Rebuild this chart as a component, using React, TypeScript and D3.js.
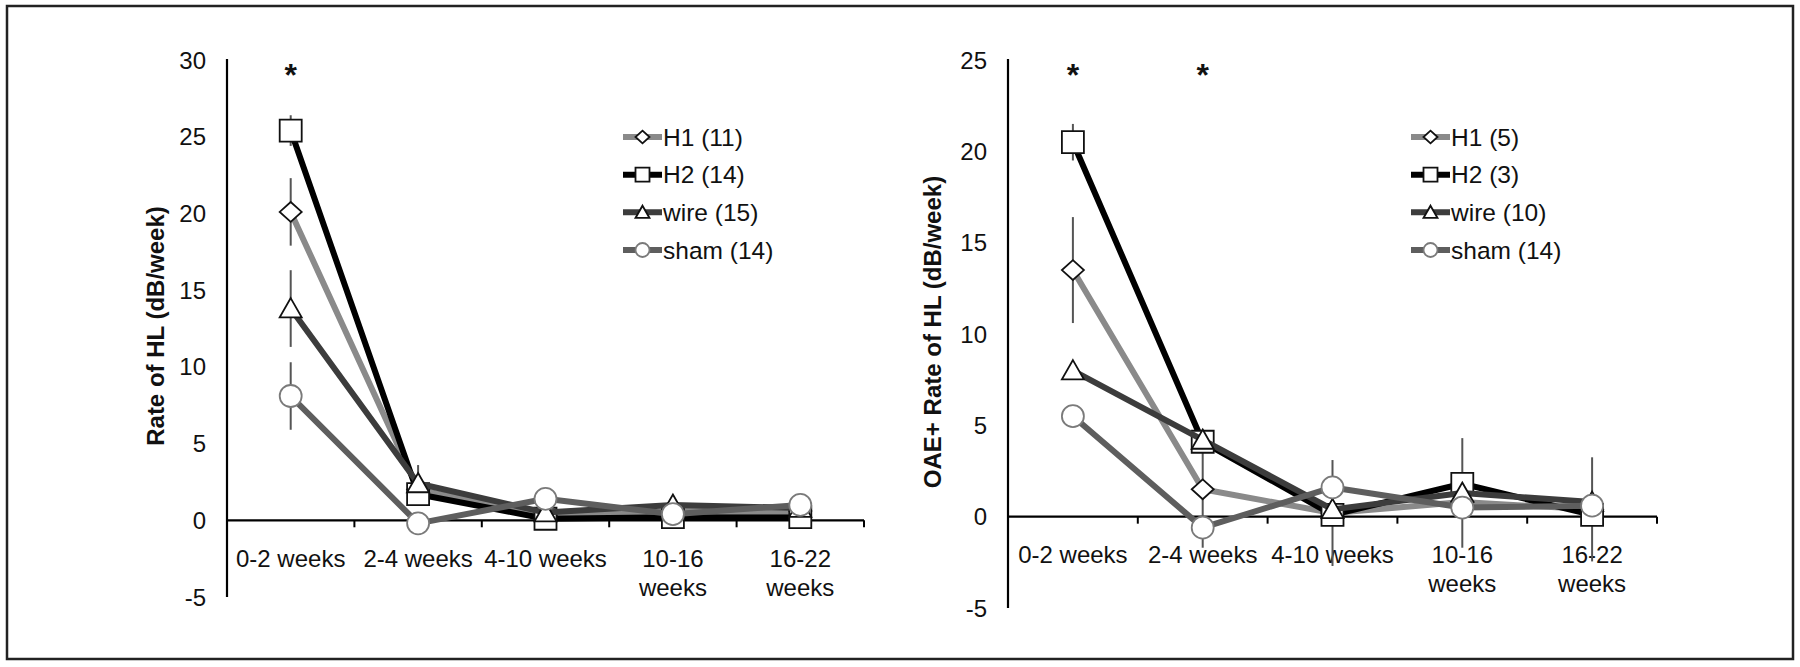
import React from "react";
import * as d3 from "d3";

const categories = ["0-2 weeks", "2-4 weeks", "4-10 weeks", "10-16 weeks", "16-22 weeks"];
const categoryLines = [["0-2 weeks"], ["2-4 weeks"], ["4-10 weeks"], ["10-16", "weeks"], ["16-22", "weeks"]];
const seriesKeys = ["H1", "H2", "wire", "sham"];

const leftTicks = [-5, 0, 5, 10, 15, 20, 25, 30];
const rightTicks = [-5, 0, 5, 10, 15, 20, 25];

const leftLegend = ["H1 (11)", "H2 (14)", "wire (15)", "sham (14)"];
const rightLegend = ["H1 (5)", "H2 (3)", "wire (10)", "sham (14)"];

const leftH1 = [20.1, 2.0, 0.3, 0.6, 0.6];
const leftH2 = [25.4, 1.7, 0.1, 0.2, 0.2];
const leftWire = [13.8, 2.4, 0.5, 1.0, 0.8];
const leftSham = [8.1, -0.2, 1.4, 0.4, 1.0];
const leftH1Err = [2.2, 0, 0, 0, 0];
const leftH2Err = [1.0, 0, 0, 0, 0.6];
const leftWireErr = [2.5, 1.2, 0, 0, 0];
const leftShamErr = [2.2, 0, 0, 0, 0];

const rightH1 = [13.5, 1.5, 0.2, 0.8, 0.4];
const rightH2 = [20.5, 4.1, 0.1, 1.8, 0.1];
const rightWire = [8.0, 4.2, 0.4, 1.3, 0.8];
const rightSham = [5.5, -0.6, 1.6, 0.5, 0.6];
const rightH1Err = [2.9, 3.2, 2.9, 0, 2.85];
const rightH2Err = [1.0, 0, 0, 0, 0];
const rightWireErr = [0, 0, 0, 3.0, 0];
const rightShamErr = [0, 0, 0, 0, 0];

const leftStars = ["0-2 weeks"];
const rightStars = ["0-2 weeks", "2-4 weeks"];

const FONT = "'Liberation Sans', Arial, Helvetica, sans-serif";

const styles: Record<string, { line: string; stroke: string; marker: string }> = {
  H1: { line: "#8a8a8a", stroke: "#111", marker: "diamond" },
  H2: { line: "#000000", stroke: "#111", marker: "square" },
  wire: { line: "#3c3c3c", stroke: "#111", marker: "triangle" },
  sham: { line: "#5e5e5e", stroke: "#7a7a7a", marker: "circle" },
};

function markerPath(kind: string, s: number): string {
  const h = s / 2;
  if (kind === "square") return `M${-h},${-h}H${h}V${h}H${-h}Z`;
  if (kind === "diamond") return `M0,${-h * 0.9}L${h},0L0,${h * 0.9}L${-h},0Z`;
  if (kind === "triangle") return `M0,${-h * 0.95}L${h},${h * 0.8}L${-h},${h * 0.8}Z`;
  return d3.arc()({ innerRadius: 0, outerRadius: h, startAngle: 0, endAngle: Math.PI * 2 }) as string;
}

type PanelProps = {
  x0: number;
  x1: number;
  yTop: number;
  yBottom: number;
  domain: [number, number];
  ticks: number[];
  values: number[][];
  errs: number[][];
  legend: string[];
  legendX: number;
  stars: string[];
  title: string;
  titleX: number;
  titleY: number;
};

function Panel(p: PanelProps) {
  const x = d3.scaleBand<string>().domain(categories).range([p.x0, p.x1]).padding(0);
  const y = d3.scaleLinear().domain(p.domain).range([p.yBottom, p.yTop]);
  const cx = (c: string) => (x(c) as number) + x.bandwidth() / 2;
  const y0 = y(0);
  const line = d3
    .line<number>()
    .x((_, i) => cx(categories[i]))
    .y((v) => y(v));
  const legendRows = d3.scalePoint<string>().domain(seriesKeys).range([137, 250]);

  return (
    <g>
      <line x1={p.x0} x2={p.x0} y1={p.yTop - 1} y2={p.yBottom} stroke="#000" strokeWidth={2.2} />
      <line x1={p.x0} x2={p.x1} y1={y0} y2={y0} stroke="#000" strokeWidth={2.2} />
      {categories.map((c) => (
        <line
          key={"t" + c}
          x1={(x(c) as number) + x.bandwidth()}
          x2={(x(c) as number) + x.bandwidth()}
          y1={y0}
          y2={y0 + 7}
          stroke="#000"
          strokeWidth={2}
        />
      ))}
      {p.ticks.map((t) => (
        <text key={"yl" + t} x={p.x0 - 21} y={y(t)} dy="0.36em" textAnchor="end" fontSize={24} fontFamily={FONT} fill="#111">
          {t}
        </text>
      ))}
      {categories.map((c, i) => (
        <text key={"xl" + c} textAnchor="middle" fontSize={24} fontFamily={FONT} fill="#111">
          {categoryLines[i].map((ln, j) => (
            <tspan key={j} x={cx(c)} y={y0 + 38 + j * 29} dy="0.36em">
              {ln}
            </tspan>
          ))}
        </text>
      ))}
      <text
        transform={`translate(${p.titleX},${p.titleY}) rotate(-90)`}
        textAnchor="middle"
        dy="0.36em"
        fontSize={24}
        fontWeight="bold"
        fontFamily={FONT}
        fill="#111"
      >
        {p.title}
      </text>
      {p.stars.map((s) => (
        <text key={"st" + s} x={cx(s)} y={86} textAnchor="middle" fontSize={32} fontWeight="bold" fontFamily={FONT} fill="#111">
          *
        </text>
      ))}
      {seriesKeys.map((k, si) =>
        p.values[si].map((v, i) =>
          p.errs[si][i] > 0 ? (
            <line
              key={"e" + k + i}
              x1={cx(categories[i])}
              x2={cx(categories[i])}
              y1={y(v + p.errs[si][i])}
              y2={y(v - p.errs[si][i])}
              stroke="#555"
              strokeWidth={2}
            />
          ) : null
        )
      )}
      {seriesKeys.map((k, si) => (
        <g key={"s" + k}>
          <path d={line(p.values[si]) as string} fill="none" stroke={styles[k].line} strokeWidth={6} strokeLinejoin="round" />
          {p.values[si].map((v, i) => (
            <path
              key={"m" + i}
              transform={`translate(${cx(categories[i])},${y(v)})`}
              d={markerPath(styles[k].marker, 22)}
              fill="#fff"
              stroke={styles[k].stroke}
              strokeWidth={1.8}
            />
          ))}
        </g>
      ))}
      {seriesKeys.map((k, si) => {
        const ly = legendRows(k) as number;
        return (
          <g key={"lg" + k}>
            <line x1={p.legendX} x2={p.legendX + 39} y1={ly} y2={ly} stroke={styles[k].line} strokeWidth={6} />
            <path
              transform={`translate(${p.legendX + 19.5},${ly})`}
              d={markerPath(styles[k].marker, 14)}
              fill="#fff"
              stroke={styles[k].stroke}
              strokeWidth={1.8}
            />
            <text x={p.legendX + 40} y={ly} dy="0.36em" fontSize={24.5} fontFamily={FONT} fill="#111">
              {p.legend[si]}
            </text>
          </g>
        );
      })}
    </g>
  );
}

export default function App() {
  return (
    <svg width={1800} height={667} style={{ position: "absolute", left: 0, top: 0, background: "#fff" }}>
      <rect x={0} y={0} width={1800} height={667} fill="#fff" />
      <rect x={7} y={6} width={1786} height={653} fill="none" stroke="#222" strokeWidth={2.5} />
      <Panel
        x0={227}
        x1={864}
        yTop={60}
        yBottom={597}
        domain={[-5, 30]}
        ticks={leftTicks}
        values={[leftH1, leftH2, leftWire, leftSham]}
        errs={[leftH1Err, leftH2Err, leftWireErr, leftShamErr]}
        legend={leftLegend}
        legendX={623}
        stars={leftStars}
        title="Rate of HL (dB/week)"
        titleX={155}
        titleY={326}
      />
      <Panel
        x0={1008}
        x1={1657}
        yTop={60}
        yBottom={608}
        domain={[-5, 25]}
        ticks={rightTicks}
        values={[rightH1, rightH2, rightWire, rightSham]}
        errs={[rightH1Err, rightH2Err, rightWireErr, rightShamErr]}
        legend={rightLegend}
        legendX={1411}
        stars={rightStars}
        title="OAE+ Rate of HL (dB/week)"
        titleX={932}
        titleY={332}
      />
    </svg>
  );
}
